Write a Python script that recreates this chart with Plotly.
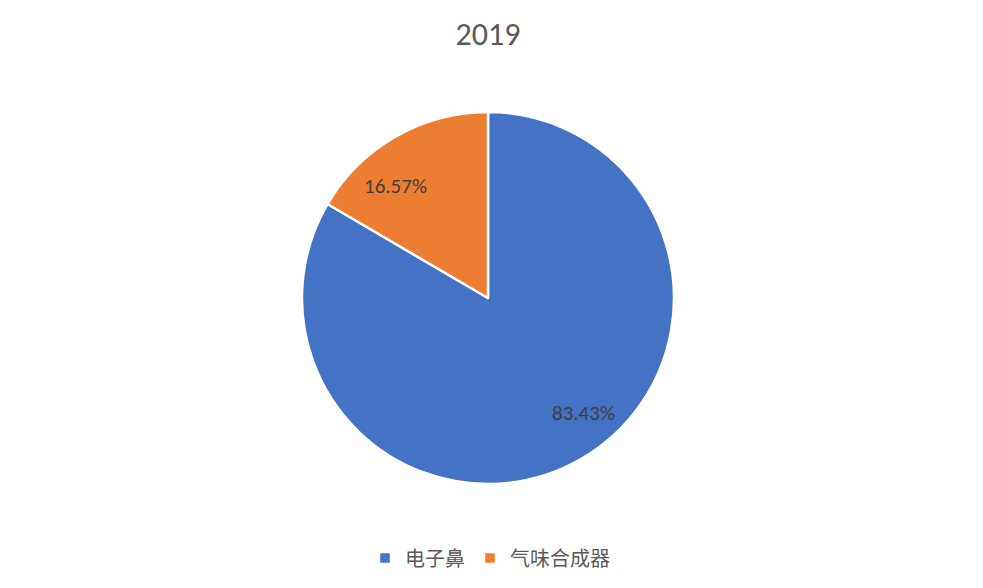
import plotly.graph_objects as go

labels = ['电子鼻', '气味合成器']
values = [83.43, 16.57]
colors = ['#4472C4', '#ED7D31']

W, H = 983, 588
OFF = 8  # page body margin
cx, cy, rad = 488 - OFF, 298 - OFF, 186

# label offsets from pie centre (pixels, y downwards), as Excel "best fit" puts them
label_off = [(95.5, 115), (-93, -112)]

total = sum(values)
pct_text = ['{:.2f}%'.format(v / total * 100) for v in values]

fig = go.Figure()

fig.add_trace(go.Pie(
    labels=labels,
    values=values,
    sort=False,
    direction='clockwise',
    rotation=0,
    marker=dict(colors=colors, line=dict(color='white', width=2.5)),
    textinfo='none',
    domain=dict(x=[(cx - rad) / W, (cx + rad) / W], y=[1 - (cy + rad) / H, 1 - (cy - rad) / H]),
    hoverinfo='label+percent',
))

for txt, (dx, dy) in zip(pct_text, label_off):
    fig.add_annotation(
        text=txt, xref='paper', yref='paper',
        x=(cx + dx) / W, y=1 - (cy + dy) / H,
        xanchor='center', yanchor='middle', showarrow=False,
        font=dict(size=21, color='#404040', family='Calibri, Carlito, Liberation Sans, sans-serif'),
    )

fig.update_layout(
    width=W,
    height=H,
    margin=dict(l=0, r=0, t=0, b=0),
    paper_bgcolor='white',
    plot_bgcolor='white',
    title=dict(text='2019', x=(488 - OFF) / W, xanchor='center', y=1 - (34 - OFF) / H, yanchor='middle',
               font=dict(size=32, color='#595959', family='Calibri, Carlito, Liberation Sans, sans-serif')),
    legend=dict(orientation='h', x=(490 - OFF) / W, xanchor='center', y=1 - (558 - OFF) / H, yanchor='middle',
                font=dict(size=20, color='#595959', family='Noto Sans CJK SC, sans-serif')),
    font=dict(family='Noto Sans CJK SC, sans-serif'),
)

fig.write_html("out.html")
